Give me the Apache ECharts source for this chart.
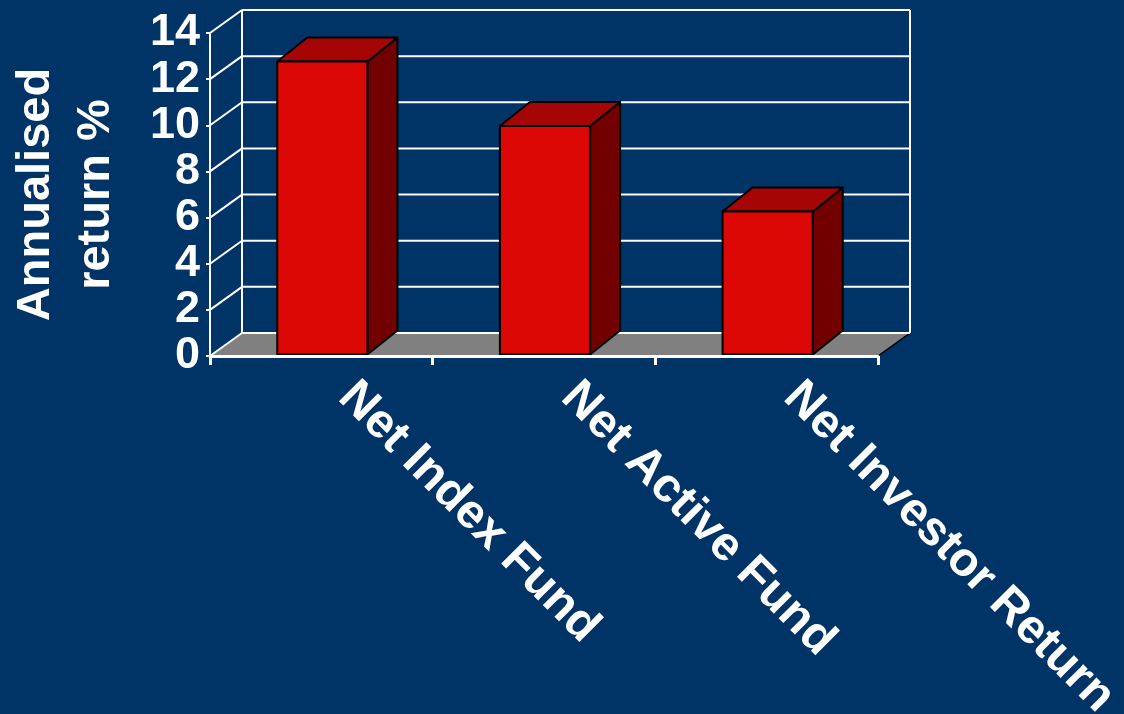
<!DOCTYPE html>
<html>
<head>
<meta charset="utf-8">
<script src="https://cdn.jsdelivr.net/npm/echarts@6/dist/echarts.min.js"></script>
<style>
html,body{margin:0;padding:0;background:#003366;}
#chart{width:1124px;height:714px;}
</style>
</head>
<body>
<div id="chart"></div>
<script>
// ---- data ----
var categories = ['Net Index Fund', 'Net Active Fund', 'Net Investor Return'];
var returns = [12.7, 9.9, 6.2];
var yTicks = [0, 2, 4, 6, 8, 10, 12, 14];
var yTitle = 'Annualised\nreturn %';

// ---- styling constants ----
var FONT = '"Liberation Sans", Arial, sans-serif';
var WALL_DX = 32, WALL_DY = -23;   // depth of back wall
var BAR_DX = 30, BAR_DY = -24;     // depth of bars
var BAR_FRAC = 0.405;              // bar width as fraction of band

var chart = echarts.init(document.getElementById('chart'), null, {renderer: 'canvas'});

function wallRender(params, api) {
  var cs = params.coordSys;
  var v = api.value(0);
  var p = api.coord([0, v]);
  var y = p[1];
  var x0 = cs.x, x1 = cs.x + cs.width;
  var children = [];
  var lineStyle = {stroke: '#ffffff', lineWidth: 2};
  children.push({type: 'line', shape: {x1: x0, y1: y, x2: x0 + WALL_DX, y2: y + WALL_DY}, style: lineStyle});
  children.push({type: 'line', shape: {x1: x0 + WALL_DX, y1: y + WALL_DY, x2: x1 + WALL_DX, y2: y + WALL_DY}, style: lineStyle});
  if (params.dataIndex === 0) {
    children.unshift({type: 'polygon', shape: {points: [[x0, y], [x1, y], [x1 + WALL_DX, y + WALL_DY], [x0 + WALL_DX, y + WALL_DY]]},
      style: {fill: '#808080', stroke: '#000000', lineWidth: 1.5}});
    var top = api.coord([0, yTicks[yTicks.length - 1]])[1];
    children.push({type: 'line', shape: {x1: x0 + WALL_DX, y1: y + WALL_DY, x2: x0 + WALL_DX, y2: top + WALL_DY}, style: lineStyle});
    children.push({type: 'line', shape: {x1: x1 + WALL_DX, y1: y + WALL_DY, x2: x1 + WALL_DX, y2: top + WALL_DY}, style: lineStyle});
  }
  return {type: 'group', children: children};
}

function barRender(params, api) {
  var idx = api.value(0);
  var val = api.value(1);
  var top = api.coord([idx, val]);
  var bot = api.coord([idx, 0]);
  var band = api.size([1, 0])[0];
  var w = band * BAR_FRAC;
  var xl = top[0] - w / 2 + 1, xr = top[0] + w / 2 + 1;
  var yt = top[1] - 1.5, yb = bot[1] - 1.5;
  var edge = {stroke: '#000000', lineWidth: 2, lineJoin: 'round'};
  return {type: 'group', children: [
    {type: 'polygon', shape: {points: [[xr, yb], [xr + BAR_DX, yb + BAR_DY], [xr + BAR_DX, yt + BAR_DY], [xr, yt]]},
      style: Object.assign({fill: '#720000'}, edge)},
    {type: 'polygon', shape: {points: [[xl, yt], [xr, yt], [xr + BAR_DX, yt + BAR_DY], [xl + BAR_DX, yt + BAR_DY]]},
      style: Object.assign({fill: '#a50505'}, edge)},
    {type: 'rect', shape: {x: xl, y: yt, width: w, height: yb - yt},
      style: Object.assign({fill: '#dc0806'}, edge)}
  ]};
}

var option = {
  backgroundColor: '#003366',
  animation: false,
  grid: {left: 210, right: 246, top: 33, bottom: 358, containLabel: false, outerBoundsMode: 'none'},
  xAxis: {
    type: 'category',
    data: categories,
    boundaryGap: true,
    axisLine: {show: true, lineStyle: {color: '#ffffff', width: 3}},
    axisTick: {show: true, length: 9, lineStyle: {color: '#ffffff', width: 3}},
    axisLabel: {
      rotate: -45, margin: 9, interval: 0, padding: [0, 0, 0, 35],
      color: '#ffffff', fontSize: 48, fontWeight: 'bold', fontFamily: FONT
    },
    splitLine: {show: false},
    z: 10
  },
  yAxis: {
    type: 'value',
    min: 0, max: 14, interval: 2,
    name: yTitle,
    nameLocation: 'middle',
    nameRotate: 90,
    nameGap: 84,
    nameTextStyle: {color: '#ffffff', fontSize: 47, fontWeight: 'bold', fontFamily: FONT, lineHeight: 60},
    axisLine: {show: true, lineStyle: {color: '#ffffff', width: 2}},
    axisTick: {show: true, length: 4, lineStyle: {color: '#ffffff', width: 2}},
    axisLabel: {color: '#ffffff', fontSize: 45, fontWeight: 'bold', fontFamily: FONT, margin: 10},
    splitLine: {show: false}
  },
  series: [
    {
      type: 'custom',
      name: 'walls',
      renderItem: wallRender,
      data: yTicks.map(function (v) { return [v]; }),
      encode: {y: 0},
      z: 1,
      silent: true
    },
    {
      type: 'custom',
      name: 'Annualised return',
      renderItem: barRender,
      data: returns.map(function (v, i) { return [i, v]; }),
      encode: {x: 0, y: 1},
      z: 5
    }
  ]
};
chart.setOption(option);
</script>
</body>
</html>
